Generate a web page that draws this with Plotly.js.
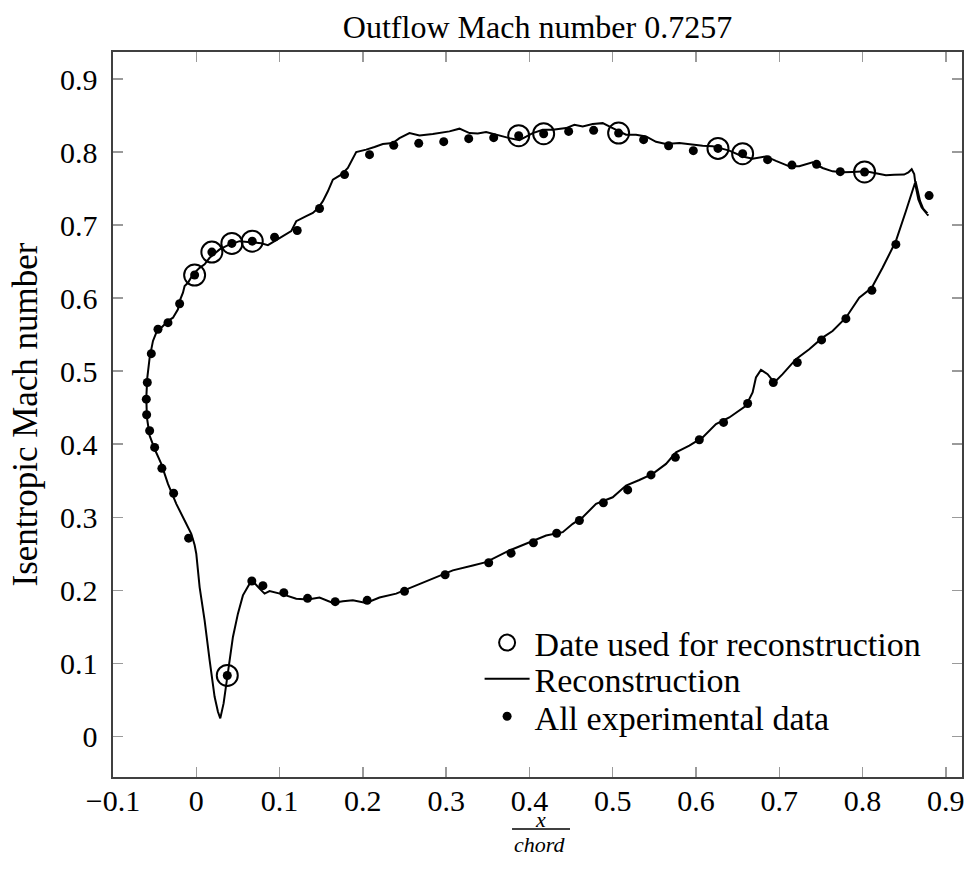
<!DOCTYPE html>
<html>
<head>
<meta charset="utf-8">
<script src="https://cdn.plot.ly/plotly-3.0.1.min.js"></script>
<style>html,body{margin:0;padding:0;background:#fff}#chart{width:970px;height:870px}</style>
</head>
<body>
<div id="chart"></div>
<script>
// ---- Data ----
const chartTitle = "Outflow Mach number 0.7257";
const yLabel = "Isentropic Mach number";
const xLabelNum = "x";
const xLabelDen = "chord";
const legendNames = ["Date used for reconstruction", "Reconstruction", "All experimental data"];

// All experimental data (x/chord, isentropic Mach)
const expX = [0.8799,0.8024,0.7732,0.7448,0.7152,0.686,0.656,0.6264,0.5968,0.5671,0.5371,0.5071,0.4771,0.4471,0.4171,0.3871,0.3571,0.3271,0.2971,0.2671,0.2371,0.208,0.178,0.148,0.1212,0.094,0.0672,0.0427,0.0187,-0.002,-0.020,-0.034,-0.046,-0.054,-0.0588,-0.060,-0.0596,-0.056,-0.050,-0.0413,-0.0272,-0.0092,0.0372,0.0667,0.080,0.1051,0.1336,0.1668,0.2052,0.25,0.2988,0.3511,0.378,0.4048,0.4327,0.46,0.4888,0.518,0.546,0.5752,0.604,0.6331,0.662,0.6928,0.7216,0.7508,0.780,0.8112,0.84];
const expY = [0.7404,0.7727,0.7732,0.7832,0.7822,0.7896,0.7978,0.805,0.8019,0.8087,0.817,0.826,0.8297,0.8283,0.8251,0.8224,0.8197,0.8183,0.8142,0.8119,0.8092,0.7964,0.7691,0.7227,0.6926,0.6835,0.678,0.6749,0.663,0.6316,0.5923,0.5664,0.5574,0.524,0.4844,0.4617,0.4403,0.4184,0.3956,0.3669,0.3328,0.2713,0.0833,0.2126,0.2063,0.1967,0.1889,0.1844,0.1862,0.1985,0.2213,0.2377,0.2508,0.265,0.2781,0.2955,0.3197,0.3374,0.3579,0.382,0.4061,0.4298,0.4557,0.4844,0.5118,0.5428,0.5719,0.6107,0.6735];

// Data used for reconstruction
const usedX = [-0.002,0.0187,0.0427,0.0672,0.0372,0.3871,0.4171,0.5071,0.6264,0.656,0.8024];
const usedY = [0.6316,0.663,0.6749,0.678,0.0833,0.8224,0.8251,0.826,0.805,0.7978,0.7727];

// Reconstruction curve (closed loop: upper surface from trailing edge, around leading edge, lower surface back)
const recX = [0.879,0.876,0.871,0.867,0.864,0.862,0.859,0.855,0.8499,0.838,0.828,0.816,0.804,0.788,0.776,0.764,0.752,0.740,0.732,0.724,0.712,0.704,0.696,0.684,0.676,0.668,0.656,0.648,0.640,0.630,0.620,0.608,0.596,0.580,0.564,0.552,0.540,0.528,0.516,0.508,0.500,0.488,0.476,0.464,0.454,0.444,0.428,0.416,0.404,0.396,0.388,0.376,0.364,0.348,0.338,0.328,0.316,0.304,0.284,0.268,0.256,0.244,0.236,0.224,0.214,0.204,0.192,0.187,0.182,0.174,0.164,0.158,0.152,0.146,0.140,0.132,0.120,0.114,0.106,0.100,0.092,0.086,0.078,0.072,0.062,0.052,0.040,0.028,0.016,0.010,0.004,-0.004,-0.010,-0.014,-0.016,-0.020,-0.022,-0.028,-0.034,-0.040,-0.048,-0.052,-0.056,-0.0588,-0.060,-0.0593,-0.056,-0.050,-0.042,-0.034,-0.024,-0.014,-0.006,-0.002,0.000,0.004,0.010,0.016,0.022,0.026,0.0288,0.0328,0.038,0.044,0.050,0.056,0.064,0.070,0.076,0.082,0.088,0.104,0.120,0.134,0.148,0.164,0.176,0.188,0.204,0.220,0.240,0.264,0.284,0.308,0.332,0.348,0.376,0.400,0.420,0.440,0.452,0.464,0.480,0.500,0.516,0.532,0.548,0.564,0.576,0.592,0.608,0.624,0.640,0.660,0.668,0.672,0.678,0.686,0.694,0.704,0.720,0.736,0.752,0.764,0.780,0.796,0.811,0.824,0.840,0.852,0.8636,0.866,0.869,0.873,0.878];
const recY = [0.713,0.717,0.724,0.735,0.752,0.770,0.7765,0.772,0.7691,0.7688,0.7682,0.771,0.7736,0.7727,0.7722,0.7736,0.7782,0.786,0.783,0.7805,0.7805,0.784,0.788,0.794,0.792,0.791,0.794,0.798,0.802,0.805,0.8078,0.8085,0.81,0.8123,0.811,0.814,0.8214,0.8238,0.8238,0.828,0.8328,0.8396,0.8383,0.835,0.8374,0.8328,0.8306,0.8306,0.826,0.821,0.8163,0.8191,0.8226,0.8273,0.8255,0.826,0.832,0.8283,0.8246,0.8228,0.826,0.8191,0.8123,0.811,0.807,0.8033,0.80,0.790,0.7782,0.7691,0.7623,0.7463,0.7328,0.723,0.7167,0.7122,0.7053,0.6917,0.686,0.6825,0.677,0.6726,0.675,0.6757,0.6775,0.678,0.6735,0.6667,0.6552,0.6462,0.6415,0.6325,0.621,0.6166,0.6074,0.5959,0.5847,0.5732,0.5687,0.5619,0.5527,0.5414,0.5186,0.4913,0.4639,0.4366,0.4116,0.3934,0.373,0.3456,0.3183,0.2955,0.2773,0.262,0.25,0.2044,0.1589,0.1042,0.0541,0.0336,0.0246,0.0451,0.0906,0.1361,0.168,0.193,0.209,0.2098,0.2022,0.1954,0.1989,0.1944,0.1885,0.1872,0.1899,0.1825,0.185,0.1862,0.1825,0.19,0.1954,0.2067,0.2158,0.2272,0.234,0.2385,0.2545,0.2658,0.275,0.2795,0.291,0.300,0.3183,0.3273,0.3433,0.351,0.3593,0.373,0.3888,0.398,0.4093,0.4276,0.4366,0.4526,0.4708,0.4913,0.5018,0.4959,0.4844,0.4959,0.5164,0.530,0.5459,0.555,0.5732,0.6005,0.6142,0.6415,0.678,0.719,0.760,0.748,0.733,0.722,0.716];

const xTicks = [-0.1,0,0.1,0.2,0.3,0.4,0.5,0.6,0.7,0.8,0.9];
const yTicks = [0,0.1,0.2,0.3,0.4,0.5,0.6,0.7,0.8,0.9];

// ---- Plot ----
const FONT = "Liberation Serif, Times New Roman, serif";
const LEGFONT = {family: FONT, size: 34, color: "#000"};
const traces = [
  {x: usedX, y: usedY, name: legendNames[0], mode: "markers", type: "scatter", legend: "legend",
   marker: {symbol: "circle-open", size: 21, color: "#000", line: {width: 2, color: "#000"}}},
  {x: recX, y: recY, name: legendNames[1], mode: "lines", type: "scatter", legend: "legend2",
   line: {color: "#000", width: 2}},
  {x: expX, y: expY, name: legendNames[2], mode: "markers", type: "scatter", legend: "legend3",
   marker: {symbol: "circle", size: 9, color: "#000"}}
];

const axisCommon = {
  showgrid: false, zeroline: false, showline: true, mirror: "ticks",
  linecolor: "#404040", linewidth: 1.6,
  ticks: "inside", ticklen: 10, tickwidth: 1.4, tickcolor: "#9a9a9a",
  tickfont: {family: FONT, size: 30, color: "#000"},
  automargin: false
};

function legendAt(yPaper) {
  return {x: 0.4318, xanchor: "left", y: yPaper, yanchor: "middle",
          bgcolor: "rgba(255,255,255,0)", borderwidth: 0, itemwidth: 45, font: LEGFONT};
}

const layout = {
  width: 970, height: 870,
  paper_bgcolor: "#fff", plot_bgcolor: "#fff",
  margin: {l: 113, r: 8, t: 52, b: 93},
  font: {family: FONT, color: "#000"},
  title: {text: chartTitle, font: {family: FONT, size: 32, color: "#000"},
          x: 0.5, xref: "paper", xanchor: "center", y: 0.969, yanchor: "middle"},
  xaxis: Object.assign({}, axisCommon, {
    range: [-0.1, 0.9194], tickvals: xTicks, ticklabelstandoff: -4
  }),
  yaxis: Object.assign({}, axisCommon, {
    range: [-0.0557, 0.937], tickvals: yTicks, ticklabelstandoff: 8,
    title: {text: yLabel, font: {family: FONT, size: 35, color: "#000"}, standoff: 11}
  }),
  showlegend: true,
  legend: legendAt(0.1848),
  legend2: legendAt(0.1348),
  legend3: legendAt(0.0832),
  annotations: [
    {text: "<i>" + xLabelNum + "</i>", xref: "paper", yref: "paper", x: 0.503, y: -0.0585,
     xanchor: "center", yanchor: "middle", showarrow: false, font: {family: FONT, size: 22, color: "#000"}},
    {text: "<i>" + xLabelDen + "</i>", xref: "paper", yref: "paper", x: 0.503, y: -0.093,
     xanchor: "center", yanchor: "middle", showarrow: false, font: {family: FONT, size: 22, color: "#000"}}
  ],
  shapes: [
    {type: "line", xref: "paper", yref: "paper", x0: 0.470, x1: 0.5383, y0: -0.0717, y1: -0.0717,
     line: {color: "#000", width: 1.3}}
  ]
};

Plotly.newPlot("chart", traces, layout, {displayModeBar: false, staticPlot: true});
</script>
</body>
</html>
